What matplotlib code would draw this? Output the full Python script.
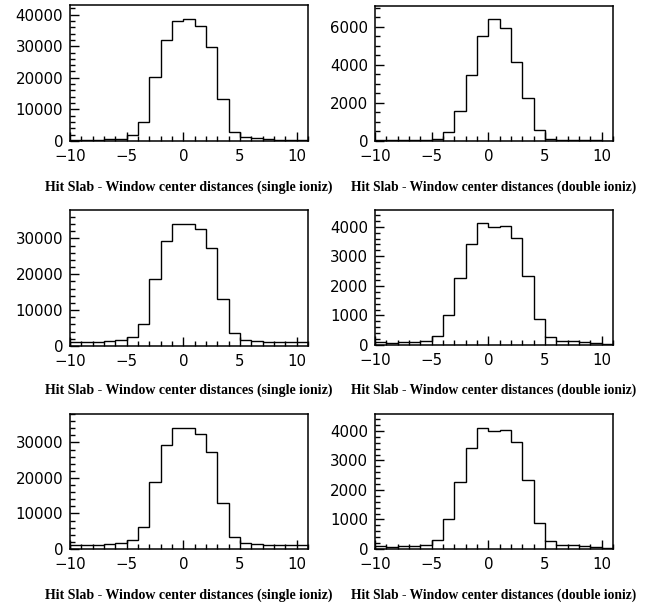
import numpy as np
import matplotlib
matplotlib.use("Agg")
import matplotlib.pyplot as plt
from matplotlib.ticker import MultipleLocator

# ---- data (bin contents, 1-unit bins from -10 to 11) ----
bin_edges = np.arange(-10, 12, 1)

single_row1 = [250, 250, 450, 550, 700, 1800, 6000, 20200, 32100, 38000, 38500,
               36300, 29900, 13400, 2950, 1300, 850, 650, 450, 300, 200]
double_row1 = [30, 30, 30, 30, 40, 100, 470, 1590, 3440, 5500, 6390,
               5930, 4140, 2230, 560, 90, 50, 35, 30, 30, 25]
single_row2 = [1050, 1050, 1250, 1350, 1550, 2500, 6200, 18800, 29300, 34100, 34000,
               32500, 27200, 13000, 3500, 1650, 1400, 1250, 1200, 1250, 1050]
double_row2 = [90, 70, 115, 115, 135, 315, 1000, 2270, 3410, 4110, 3990,
               4040, 3630, 2330, 890, 270, 145, 120, 105, 75, 50]
single_row3 = single_row2
double_row3 = double_row2

title_single = "Hit Slab - Window center distances (single ioniz)"
title_double = "Hit Slab - Window center distances (double ioniz)"

W, H = 645, 605
DPI = 100
fig = plt.figure(figsize=(W / DPI, H / DPI), dpi=DPI)

def px_axes(left, top, right, bottom):
    return fig.add_axes([left / W, 1 - bottom / H, (right - left) / W, (bottom - top) / H])

panels = [
    # data, ylim top, y major, y minor, (l, t, r, b), title, title y
    (single_row1, 43050, 10000, 2000, (70, 5, 308, 141), title_single, 187),
    (double_row1, 7080, 2000, 500, (375, 6, 613, 141), title_double, 187),
    (single_row2, 37900, 10000, 2000, (70, 210, 308, 346), title_single, 390),
    (double_row2, 4565, 1000, 200, (375, 210, 613, 345), title_double, 390),
    (single_row3, 38000, 10000, 2000, (70, 414, 308, 549), title_single, 595),
    (double_row3, 4575, 1000, 200, (375, 414, 613, 549), title_double, 595),
]

for data, ytop, ymaj, ymin, box, title, ty in panels:
    ax = px_axes(*box)
    ax.stairs(data, bin_edges, color="black", linewidth=1.0)
    ax.set_xlim(-10, 11)
    ax.set_ylim(0, ytop)
    ax.xaxis.set_major_locator(MultipleLocator(5))
    ax.xaxis.set_minor_locator(MultipleLocator(1))
    ax.yaxis.set_major_locator(MultipleLocator(ymaj))
    ax.yaxis.set_minor_locator(MultipleLocator(ymin))
    ax.tick_params(which="both", direction="in", top=False, right=False,
                   width=1.0, colors="black")
    ax.tick_params(which="major", length=6.5)
    ax.tick_params(which="minor", length=3.8)
    ax.tick_params(axis="y", which="major", pad=5)
    ax.tick_params(axis="x", which="major", pad=6)
    for lab in ax.get_xticklabels() + ax.get_yticklabels():
        lab.set_fontfamily("DejaVu Sans")
        lab.set_fontsize(10.8)
    for sp in ax.spines.values():
        sp.set_linewidth(1.1)
        sp.set_color("black")
    cx = (box[0] + box[2]) / 2
    t = fig.text(cx / W, 1 - ty / H, title, ha="center", va="center",
                 family=["Liberation Serif"], weight="bold", fontsize=10.5)
    # fit title width to ~287 px
    fig.canvas.draw()
    wpx = t.get_window_extent().width
    t.set_fontsize(10.5 * 287 / wpx)

fig.savefig("out.png", dpi=DPI)
